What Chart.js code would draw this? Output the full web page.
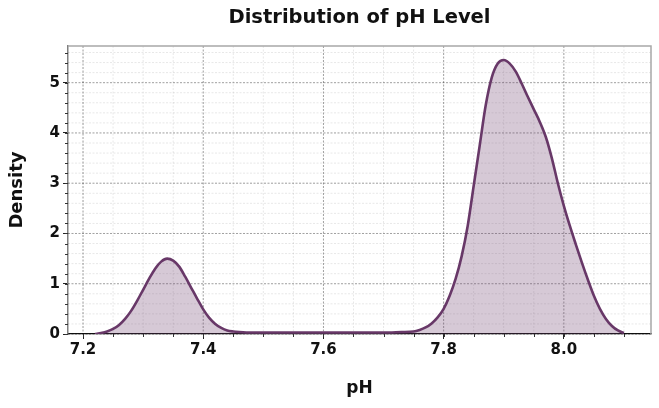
<!DOCTYPE html>
<html>
<head>
<meta charset="utf-8">
<script src="https://cdn.jsdelivr.net/npm/chart.js@4"></script>
<style>
  html, body { margin: 0; padding: 0; background: #fff; }
  #wrap { width: 659px; height: 408px; }
</style>
</head>
<body>
<div id="wrap"><canvas id="phChart"></canvas></div>
<script>
// KDE curve
const phValues = [
  7.22, 7.23, 7.24, 7.25, 7.26, 7.27, 7.28, 7.29, 7.30, 7.31, 7.32, 7.33, 7.34, 7.35,
  7.36, 7.37, 7.38, 7.39, 7.40, 7.41, 7.42, 7.43, 7.44, 7.45, 7.46, 7.48, 7.50, 7.55,
  7.60, 7.65, 7.70, 7.73, 7.75, 7.76, 7.77, 7.78, 7.79, 7.80, 7.81, 7.82, 7.83, 7.84,
  7.85, 7.86, 7.87, 7.88, 7.89, 7.90, 7.91, 7.92, 7.93, 7.94, 7.95, 7.96, 7.97, 7.98,
  7.99, 8.00, 8.01, 8.02, 8.03, 8.04, 8.05, 8.06, 8.07, 8.08, 8.09, 8.10
];
const densityValues = [
  0.00, 0.02, 0.05, 0.10, 0.18, 0.30, 0.46, 0.66, 0.88, 1.10, 1.30, 1.44, 1.50, 1.46,
  1.34, 1.14, 0.92, 0.70, 0.49, 0.32, 0.20, 0.12, 0.07, 0.05, 0.04, 0.03, 0.03, 0.03,
  0.03, 0.03, 0.03, 0.04, 0.05, 0.08, 0.13, 0.21, 0.33, 0.50, 0.76, 1.10, 1.55, 2.15,
  2.95, 3.75, 4.55, 5.10, 5.38, 5.45, 5.38, 5.22, 4.98, 4.72, 4.47, 4.22, 3.92, 3.50,
  3.00, 2.55, 2.15, 1.78, 1.42, 1.08, 0.76, 0.50, 0.30, 0.16, 0.07, 0.02
];
const xTicks = [7.2, 7.4, 7.6, 7.8, 8.0];
const yTicks = [0, 1, 2, 3, 4, 5];
const xMinorStep = 0.05;
const yMinorStep = 0.2;

const FONT = 'DejaVu Sans';

// matplotlib-ish grid: faint minor lines, dotted majors, minor tick marks, grey top/right spines
const gridPlugin = {
  id: 'mplGrid',
  beforeDatasetsDraw(chart) {
    const { ctx, chartArea: a, scales: { x, y } } = chart;
    ctx.save();
    ctx.lineWidth = 0.8;
    ctx.setLineDash([2, 1.5]);
    const line = (x1, y1, x2, y2, color) => {
      ctx.strokeStyle = color;
      ctx.beginPath(); ctx.moveTo(x1, y1); ctx.lineTo(x2, y2); ctx.stroke();
    };
    for (let v = Math.ceil(x.min / xMinorStep) * xMinorStep; v <= x.max; v += xMinorStep) {
      const px = x.getPixelForValue(v);
      line(px, a.top, px, a.bottom, 'rgba(0,0,0,0.12)');
    }
    for (let v = 0; v <= y.max; v += yMinorStep) {
      const py = y.getPixelForValue(v);
      line(a.left, py, a.right, py, 'rgba(0,0,0,0.12)');
    }
    xTicks.forEach(v => { const px = x.getPixelForValue(v); line(px, a.top, px, a.bottom, 'rgba(0,0,0,0.4)'); });
    yTicks.forEach(v => { const py = y.getPixelForValue(v); line(a.left, py, a.right, py, 'rgba(0,0,0,0.4)'); });
    ctx.restore();
  },
  afterDraw(chart) {
    const { ctx, chartArea: a, scales: { x, y } } = chart;
    ctx.save();
    ctx.lineWidth = 1;
    ctx.strokeStyle = '#333';
    ctx.beginPath();
    for (let v = Math.ceil(x.min / xMinorStep) * xMinorStep; v <= x.max; v += xMinorStep) {
      const px = Math.round(x.getPixelForValue(v)) + 0.5;
      ctx.moveTo(px, a.bottom); ctx.lineTo(px, a.bottom + 3);
    }
    for (let v = 0; v <= y.max; v += yMinorStep) {
      const py = Math.round(y.getPixelForValue(v)) + 0.5;
      ctx.moveTo(a.left, py); ctx.lineTo(a.left - 3, py);
    }
    ctx.stroke();
    ctx.strokeStyle = '#a8a8a8';
    ctx.lineWidth = 1.5;
    ctx.beginPath();
    ctx.moveTo(a.left, a.top); ctx.lineTo(a.right, a.top); ctx.lineTo(a.right, a.bottom);
    ctx.stroke();
    ctx.restore();
  }
};

new Chart(document.getElementById('phChart'), {
  type: 'line',
  data: {
    datasets: [{
      label: 'pH',
      data: phValues.map((v, i) => ({ x: v, y: densityValues[i] })),
      borderColor: '#683868',
      backgroundColor: 'rgba(104,56,104,0.27)',
      borderWidth: 2.6,
      fill: 'origin',
      pointRadius: 0,
      cubicInterpolationMode: 'monotone',
    }],
  },
  options: {
    responsive: true,
    maintainAspectRatio: false,
    animation: false,
    layout: { padding: { top: 0, right: 8, bottom: 0, left: 0 } },
    plugins: {
      legend: { display: false },
      tooltip: { enabled: false },
      title: {
        display: true,
        fullSize: false,
        text: 'Distribution of pH Level',
        color: '#111',
        font: { family: FONT, size: 19.5, weight: 'bold' },
        padding: { top: 6, bottom: 16.6 },
      },
    },
    scales: {
      x: {
        type: 'linear',
        min: 7.175,
        max: 8.145,
        afterBuildTicks: s => { s.ticks = xTicks.map(v => ({ value: v })); },
        afterFit: s => { s.height = 74; },
        grid: { drawOnChartArea: false, tickLength: 5, tickColor: '#222' },
        border: { color: '#111', width: 1.2 },
        ticks: { color: '#111', font: { family: FONT, size: 15, weight: 'bold' }, padding: 2, maxRotation: 0, callback: v => v.toFixed(1) },
        title: { display: true, text: 'pH', color: '#111', font: { family: FONT, size: 17, weight: 'bold' }, padding: { top: 0, bottom: 9 } },
      },
      y: {
        min: 0,
        max: 5.73,
        afterBuildTicks: s => { s.ticks = yTicks.map(v => ({ value: v })); },
        afterFit: s => { s.width = 68; },
        grid: { drawOnChartArea: false, tickLength: 5, tickColor: '#222' },
        border: { color: '#808080', width: 1.5 },
        ticks: { color: '#111', font: { family: FONT, size: 15, weight: 'bold' }, padding: 3 },
        title: { display: true, text: 'Density', color: '#111', font: { family: FONT, size: 18, weight: 'bold' }, padding: { top: 7, bottom: 0 } },
      },
    },
  },
  plugins: [gridPlugin],
});
</script>
</body>
</html>
